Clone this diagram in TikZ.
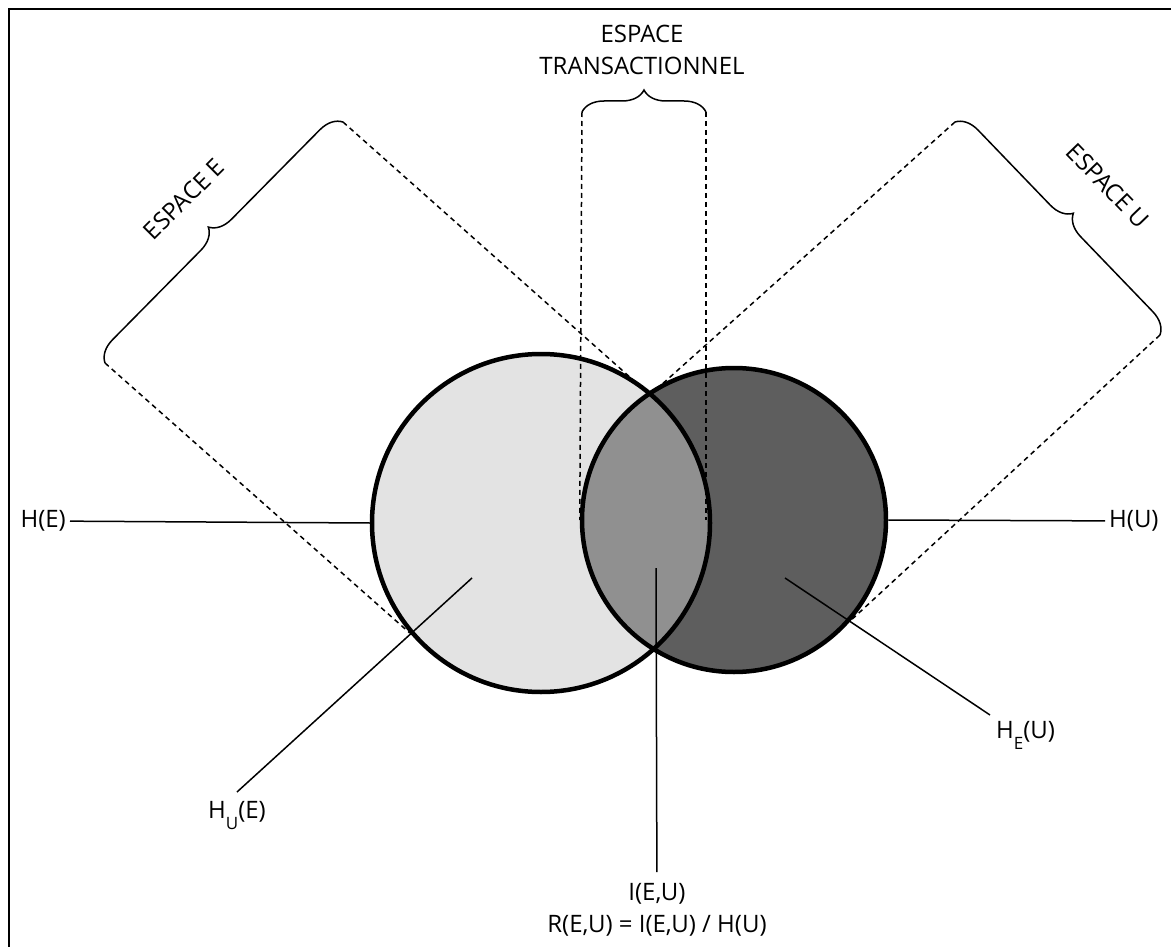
\documentclass[tikz,border=0pt]{standalone}
\usepackage{fontspec}
\setmainfont{Open Sans}
\usetikzlibrary{decorations.pathreplacing}
\definecolor{lightE}{HTML}{E3E3E3}
\definecolor{darkU}{HTML}{5E5E5E}
\definecolor{midI}{HTML}{909090}
\newcommand{\lowidx}[1]{\raisebox{-0.45em}{\fontsize{17}{17}\selectfont #1}}
\begin{document}
\begin{tikzpicture}[x=1pt,y=-1pt,
    every node/.style={font=\fontsize{24}{32}\selectfont, inner sep=4pt},
    ring/.style={circle, draw, line width=4.5pt, inner sep=0pt},
    lbl/.style={line width=1.5pt},
    gap/.style={line width=1.5pt, dash pattern=on 5pt off 4pt},
    accolade/.style={decorate, decoration={brace, amplitude=22pt}, line width=1.5pt}]
  \useasboundingbox (0,0) rectangle (1171,947);
  \draw[line width=2.5pt] (9,947) -- (9,9) -- (1171,9);
  \coordinate (EA) at (105,363);
  \coordinate (EB) at (343,122);
  \coordinate (UA) at (955,122);
  \coordinate (UB) at (1160,335);
  \coordinate (TA) at (582,112);
  \coordinate (TB) at (706,112);
  \coordinate (X) at (650,395);
  \fill[lightE] (541,523) circle (169pt);
  \fill[darkU] (734,520) circle (152pt);
  \begin{scope}
    \clip (541,523) circle (169pt);
    \fill[midI] (734,520) circle (152pt);
  \end{scope}
  \node[ring, minimum size=338pt] (E) at (541,523) {};
  \node[ring, minimum size=304pt] (U) at (734,520) {};
  \draw[accolade] (EA) -- (EB);
  \draw[accolade] (UA) -- (UB);
  \draw[accolade] (TA) -- (TB);
  \node[rotate=45] (espE) at (184,199) {ESPACE E};
  \node[rotate=-46] (espU) at (1108,186) {ESPACE U};
  \node[align=center] (espT) at (642,50) {ESPACE\\TRANSACTIONNEL};
  \draw[gap] (TA) -- (U.west);
  \draw[gap] (TB) -- (TB |- U.west);
  \draw[gap] (EB) -- (X);
  \draw[gap] (EA) -- (E.220);
  \draw[gap] (UA) -- (X);
  \draw[gap] (UB) -- (U.-40);
  \node[anchor=east] (HE) at (70,521) {H(E)};
  \draw[lbl] (HE) -- (E.west);
  \node[anchor=west] (HU) at (1105,521) {H(U)};
  \draw[lbl] (U.east) -- (HU);
  \coordinate (pE) at (472,578);
  \node[anchor=north, inner ysep=9pt] (HUE) at (237,792) {H\lowidx{U}(E)};
  \draw[lbl] (pE) -- (HUE.north);
  \coordinate (pU) at (785,578);
  \node[anchor=north west, inner sep=6pt] (HEU) at (990,715) {H\lowidx{E}(U)};
  \draw[lbl] (pU) -- (HEU.north west);
  \coordinate (pI) at (656,568);
  \node[anchor=north, align=center, inner ysep=11pt] (IEU) at (657,872) {I(E,U)\\R(E,U) = I(E,U) / H(U)};
  \draw[lbl] (pI) -- (IEU);
\end{tikzpicture}
\end{document}
